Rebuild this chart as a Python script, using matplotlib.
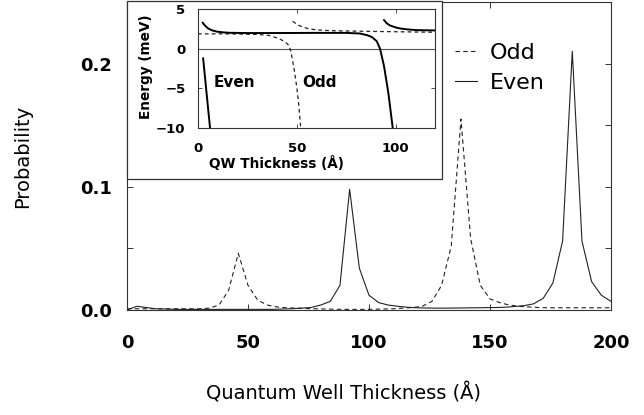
import numpy as np
import matplotlib
matplotlib.use("Agg")
import matplotlib.pyplot as plt
from matplotlib.patches import Rectangle
from matplotlib.ticker import MultipleLocator, FormatStrFormatter

plt.rcParams['font.family'] = ['DejaVu Sans']

# ---- main panel: tunnelling probability vs. well thickness ----
even_x = np.arange(0, 201, 4)
even_p = [0.000, 0.003, 0.002, 0.001, 0.0008, 0.0005, 0.0005, 0.0005, 0.0005, 0.0005,
          0.0005, 0.0005, 0.0005, 0.0005, 0.0005, 0.0005, 0.0008, 0.001, 0.0015, 0.002,
          0.004, 0.007, 0.020, 0.098, 0.034, 0.012, 0.006, 0.004, 0.003, 0.0022,
          0.0018, 0.0016, 0.0015, 0.0015, 0.0016, 0.0017, 0.0018, 0.0019, 0.002, 0.0022,
          0.0028, 0.0035, 0.005, 0.0095, 0.022, 0.056, 0.210, 0.056, 0.023, 0.012,
          0.007]

odd_x = [0] + list(range(2, 200, 4)) + [200]
odd_p = [0.001, 0.001, 0.001, 0.001, 0.001, 0.001, 0.001, 0.001, 0.001, 0.0015, 0.004,
         0.016, 0.046, 0.020, 0.008, 0.004, 0.0025, 0.0018, 0.0015, 0.0012, 0.001,
         0.0008, 0.0006, 0.0005, 0.0005, 0.0005, 0.0006, 0.0008, 0.001, 0.0015, 0.002,
         0.003, 0.007, 0.020, 0.052, 0.155, 0.058, 0.020, 0.009, 0.006, 0.004,
         0.003, 0.0025, 0.002, 0.0018, 0.0018, 0.0018, 0.0018, 0.0018, 0.0018, 0.0018,
         0.0018]

# ---- inset: bound-state energies vs. QW thickness ----
odd1_x = [0, 10, 20, 30, 36, 41, 44, 46, 47, 48.5, 50, 51, 52]
odd1_e = [1.9, 1.9, 1.88, 1.82, 1.7, 1.3, 0.9, 0.45, -0.3, -2.3, -4.8, -7.0, -10]
odd2_x = [48, 50, 53, 56, 60, 65, 70, 80, 90, 105, 120]
odd2_e = [3.5, 3.1, 2.75, 2.55, 2.4, 2.33, 2.28, 2.24, 2.2, 2.15, 2.1]

even0_x = [2.6, 4.3, 6.1]
even0_e = [-1.2, -5.5, -10]
even1_x = [2.4, 3.5, 5, 7, 9.5, 13, 16, 25, 40, 60, 75, 82, 86, 88, 90.5, 92.2, 94.2, 96.4, 98.6]
even1_e = [3.3, 2.95, 2.6, 2.35, 2.18, 2.08, 2.03, 2.0, 2.0, 2.02, 2.02, 1.94, 1.7, 1.5,
           0.97, 0.0, -2.2, -5.6, -10]
even2_x = [94.2, 95.5, 97.2, 100, 102.3, 106, 110.7, 115, 120]
even2_e = [3.63, 3.25, 2.96, 2.72, 2.58, 2.46, 2.37, 2.35, 2.33]

W, H = 644, 415
fig = plt.figure(figsize=(W / 100, H / 100), dpi=100)

def fx(px):
    return px / W

def fy(py):
    return 1 - py / H

spine_col = '#333333'

ax = fig.add_axes([fx(127), fy(310), fx(611) - fx(127), fy(2) - fy(310)])
ax.set_zorder(0)
ax.plot(odd_x, odd_p, color='#222222', lw=0.8, ls=(0, (4, 3)), label='Odd')
ax.plot(even_x, even_p, color='#222222', lw=0.8, ls='-', label='Even')
ax.set_xlim(0, 200)
ax.set_ylim(0, 0.25)
ax.xaxis.set_major_locator(MultipleLocator(50))
ax.yaxis.set_major_locator(MultipleLocator(0.1))
ax.yaxis.set_minor_locator(MultipleLocator(0.05))
ax.yaxis.set_major_formatter(FormatStrFormatter('%.1f'))
ax.tick_params(which='both', direction='in', top=True, right=True, length=4,
               width=0.7, color=spine_col)
ax.tick_params(axis='x', pad=17, labelsize=13)
ax.tick_params(axis='y', pad=11, labelsize=13)
for lab in ax.get_xticklabels() + ax.get_yticklabels():
    lab.set_fontweight('bold')
for s in ax.spines.values():
    s.set_linewidth(0.8)
    s.set_color(spine_col)
ax.set_xlabel('Quantum Well Thickness (Å)', fontsize=14)
ax.set_ylabel('Probability', fontsize=14)
ax.xaxis.set_label_coords(0.447, -0.235)
ax.yaxis.set_label_coords(-0.195, 0.5)

leg = ax.legend(loc='upper left', bbox_to_anchor=(0.677, 0.868), frameon=False,
                fontsize=16, handlelength=1.0, handletextpad=0.6,
                borderpad=0, borderaxespad=0, labelspacing=0.45)
for h in leg.get_lines():
    h.set_linewidth(0.8)

# white panel holding the inset
box = Rectangle((fx(127), fy(179)), fx(442) - fx(127), fy(1.5) - fy(179),
                transform=fig.transFigure, facecolor='white', edgecolor=spine_col,
                linewidth=0.9, zorder=1)
fig.add_artist(box)

ins = fig.add_axes([fx(198), fy(128), fx(435) - fx(198), fy(9.3) - fy(128)])
ins.set_zorder(2)
ins.axhline(0, color='#555555', lw=0.8)
ins.plot(odd1_x, odd1_e, color='#222222', lw=0.9, ls=(0, (3, 2.5)))
ins.plot(odd2_x, odd2_e, color='#222222', lw=0.9, ls=(0, (3, 2.5)))
ins.plot(even0_x, even0_e, color='black', lw=1.4)
ins.plot(even1_x, even1_e, color='black', lw=1.4)
ins.plot(even2_x, even2_e, color='black', lw=1.4)
ins.set_xlim(0, 120)
ins.set_ylim(-10, 5)
ins.xaxis.set_major_locator(MultipleLocator(50))
ins.yaxis.set_major_locator(MultipleLocator(5))
ins.tick_params(which='both', direction='in', top=True, right=True, length=3,
                width=0.6, color=spine_col, labelsize=9.5)
ins.tick_params(axis='x', pad=10)
ins.tick_params(axis='y', pad=9)
for lab in ins.get_xticklabels() + ins.get_yticklabels():
    lab.set_fontweight('bold')
for s in ins.spines.values():
    s.set_linewidth(0.8)
    s.set_color(spine_col)
ins.set_xlabel('QW Thickness (Å)', fontsize=9.8, fontweight='bold')
ins.set_ylabel('Energy (meV)', fontsize=9.8, fontweight='bold')
ins.xaxis.set_label_coords(0.331, -0.24)
ins.yaxis.set_label_coords(-0.19, 0.52)
ins.text(8, -4.2, 'Even', fontsize=11, fontweight='bold', va='center', ha='left')
ins.text(53, -4.2, 'Odd', fontsize=11, fontweight='bold', va='center', ha='left')

fig.savefig('out.png', dpi=100)
